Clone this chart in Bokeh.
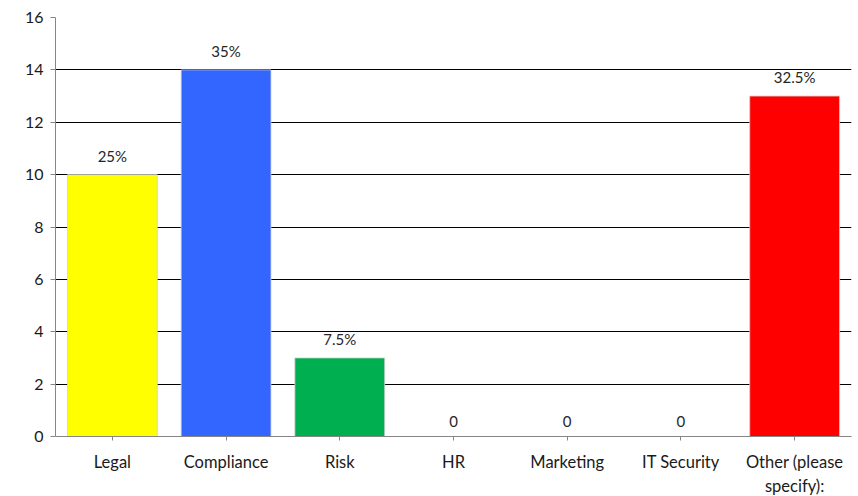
from bokeh.plotting import figure
from bokeh.models import ColumnDataSource, FixedTicker, LabelSet
from bokeh.core.properties import value
from bokeh.embed import file_html
from bokeh.resources import INLINE

categories = ["Legal", "Compliance", "Risk", "HR", "Marketing", "IT Security", "Other (please\nspecify):"]
counts = [10, 14, 3, 0, 0, 0, 13]
pct_labels = ["25%", "35%", "7.5%", "0", "0", "0", "32.5%"]
colors = ["#FFFF00", "#3366FF", "#00B050", "#FFFFFF", "#FFFFFF", "#FFFFFF", "#FF0000"]
y_ticks = [0, 2, 4, 6, 8, 10, 12, 14, 16]

FONT = "Lato"

src = ColumnDataSource(dict(cat=categories, val=counts, lab=pct_labels, col=colors))

p = figure(x_range=categories, y_range=(0, 16), frame_width=796, frame_height=419,
           output_backend="svg", toolbar_location=None,
           min_border_left=55, min_border_right=7, min_border_top=17, min_border_bottom=56)
p.outline_line_color = None

p.vbar(x="cat", top="val", width=0.79, source=src, fill_color="col",
       line_color="#D0D0D0", line_width=0.8)

labels = LabelSet(x="cat", y="val", text="lab", source=src, x_offset=0, y_offset=10,
                  text_align="center", text_baseline="bottom",
                  text_font=value(FONT), text_font_size="15px", text_color="#262626")
p.add_layout(labels)

p.yaxis.ticker = FixedTicker(ticks=y_ticks)
p.yaxis.major_label_text_font = FONT
p.yaxis.major_label_text_font_size = "16px"
p.yaxis.major_label_text_color = "#1a1a1a"
p.yaxis.axis_line_color = "#868686"
p.yaxis.major_tick_line_color = "#868686"
p.yaxis.major_tick_out = 5
p.yaxis.major_tick_in = 0
p.yaxis.minor_tick_line_color = None
p.yaxis.major_label_standoff = 7

p.xaxis.major_label_text_font = FONT
p.xaxis.major_label_text_font_size = "16.5px"
p.xaxis.major_label_text_color = "#1a1a1a"
p.xaxis.axis_line_color = "#868686"
p.xaxis.major_tick_line_color = "#868686"
p.xaxis.major_tick_out = 4
p.xaxis.major_tick_in = 0
p.xaxis.major_label_standoff = 11

p.xgrid.grid_line_color = None
p.ygrid.grid_line_color = "#000000"
p.ygrid.grid_line_width = 1

open("out.html", "w").write(file_html(p, INLINE))
